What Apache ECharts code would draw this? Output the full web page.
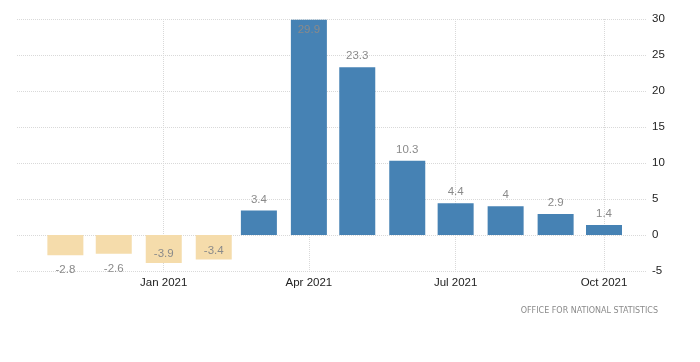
<!DOCTYPE html>
<html>
<head>
<meta charset="utf-8">
<script src="https://cdn.jsdelivr.net/npm/echarts@6/dist/echarts.min.js"></script>
<style>html,body{margin:0;padding:0;background:#fff}#c{width:700px;height:362px}</style>
</head>
<body>
<div id="c"></div>
<script>
// Monthly periods (year, month index 0-11)
const periods = [[2020,10],[2020,11],[2021,0],[2021,1],[2021,2],[2021,3],[2021,4],[2021,5],[2021,6],[2021,7],[2021,8],[2021,9]];
const values = [-2.8, -2.6, -3.9, -3.4, 3.4, 29.9, 23.3, 10.3, 4.4, 4, 2.9, 1.4];
const yTicks = [-5, 0, 5, 10, 15, 20, 25, 30];
const monthNames = ['Jan','Feb','Mar','Apr','May','Jun','Jul','Aug','Sep','Oct','Nov','Dec'];
const sourceText = 'OFFICE FOR NATIONAL STATISTICS';

const FONT = 'Liberation Sans, Arial, sans-serif';
const data = periods.map((p, i) => {
  const v = values[i];
  const item = { value: [Date.UTC(p[0], p[1], 1), v] };
  if (v < 0) {
    item.itemStyle = { color: '#F5DCAB' };
    item.label = v < -3 ? { position: 'insideBottom', distance: 3 } : { position: 'bottom', distance: 9 };
  } else if (v > 29) {
    item.label = { position: 'insideTop', distance: 4 };
  }
  return item;
});

const chart = echarts.init(document.getElementById('c'), null, { renderer: 'canvas' });
chart.setOption({
  animation: false,
  useUTC: true,
  grid: { left: 17, right: 53, top: 19, bottom: 91, containLabel: false },
  xAxis: {
    type: 'time',
    // ECharts widens a bar axis by half a bar on each side; these bounds account for that
    min: Date.UTC(2020, 9, 13, 4),
    max: Date.UTC(2021, 9, 16, 12),
    splitNumber: 4,
    axisLine: { show: false },
    axisTick: { show: false },
    splitLine: { show: true, showMinLine: false, showMaxLine: false, lineStyle: { color: '#d9d9d9', type: [1, 1], width: 1 } },
    axisLabel: {
      color: '#222', fontFamily: FONT, fontSize: 11.5, margin: 6,
      formatter: function (val) { const d = new Date(val); return monthNames[d.getUTCMonth()] + ' ' + d.getUTCFullYear(); }
    }
  },
  yAxis: {
    type: 'value',
    position: 'right',
    min: yTicks[0], max: yTicks[yTicks.length - 1], interval: 5,
    axisLine: { show: false },
    axisTick: { show: false },
    splitLine: { show: true, lineStyle: { color: '#d9d9d9', type: [1, 1], width: 1 } },
    axisLabel: { color: '#222', fontFamily: FONT, fontSize: 11.5, margin: 5 }
  },
  series: [{
    type: 'bar',
    data: data,
    barWidth: 36,
    itemStyle: { color: '#4682B4' },
    label: {
      show: true, position: 'top', distance: 5,
      color: '#8a8a8a', fontFamily: FONT, fontSize: 11.5,
      formatter: p => String(p.value[1])
    }
  }],
  graphic: [{
    type: 'text', right: 42, top: 307,
    style: { text: sourceText, fill: '#8a8a8a', font: '8px "DejaVu Sans", sans-serif' }
  }]
});
</script>
</body>
</html>
